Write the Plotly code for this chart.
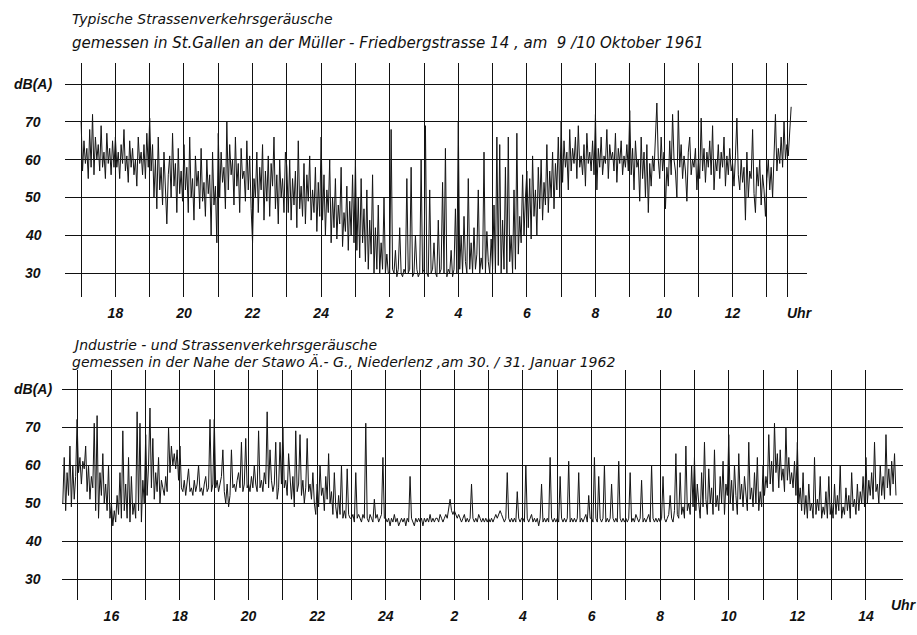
import plotly.graph_objects as go

# ---------------- data (dB(A) readings, 24 per hour) ----------------
# Top: St. Gallen, 9/10 Oktober 1961, starting 17:00
TOP_START = 17.0
top_values = [
    70, 57, 65, 59, 63, 55, 68, 58, 72, 56, 66, 60, 64, 57, 69, 58, 62, 55, 67, 59, 63, 56, 65, 58,  # 17h
    66, 58, 62, 55, 64, 59, 68, 57, 61, 54, 65, 58, 63, 56, 60, 53, 66, 59, 62, 56, 64, 55, 67, 58,  # 18h
    71, 57, 64, 50, 60, 47, 66, 52, 58, 48, 62, 54, 43, 56, 61, 50, 67, 53, 59, 46, 63, 51, 57, 49,  # 19h
    64, 52, 58, 46, 66, 50, 55, 44, 61, 53, 57, 47, 63, 49, 54, 45, 60, 51, 56, 40, 62, 48, 53, 38,  # 20h
    67, 50, 62, 54, 58, 47, 70, 52, 64, 56, 60, 48, 66, 53, 59, 46, 63, 55, 57, 49, 65, 52, 61, 47,  # 21h
    38, 55, 50, 62, 46, 58, 52, 64, 44, 57, 49, 61, 45, 59, 53, 66, 47, 56, 43, 60, 50, 55, 46, 62,  # 22h
    58, 46, 60, 44, 55, 48, 57, 42, 65, 47, 53, 45, 59, 43, 56, 49, 61, 44, 52, 46, 58, 41, 54, 45,  # 23h
    66, 44, 56, 40, 52, 46, 60, 38, 50, 42, 55, 39, 48, 43, 58, 37, 46, 41, 53, 36, 49, 40, 56, 38,  # 24h
    60, 36, 50, 34, 55, 38, 47, 33, 52, 31, 44, 35, 56, 30, 42, 31, 48, 30, 38, 31, 50, 30, 35, 30,  # 1h
    30, 68, 31, 30, 36, 29, 31, 42, 30, 29, 31, 30, 55, 30, 31, 58, 29, 30, 40, 31, 29, 30, 60, 30,  # 2h
    31, 69, 30, 29, 52, 30, 31, 38, 30, 29, 44, 30, 31, 54, 30, 63, 29, 31, 30, 36, 29, 31, 47, 30,  # 3h
    70, 31, 40, 30, 45, 33, 30, 55, 31, 38, 30, 42, 31, 35, 52, 30, 34, 31, 62, 30, 41, 33, 30, 39,  # 4h
    31, 48, 30, 66, 32, 64, 30, 44, 31, 58, 30, 66, 33, 40, 30, 52, 31, 67, 35, 45, 38, 56, 40, 50,  # 5h
    57, 42, 55, 39, 61, 45, 52, 40, 58, 47, 60, 44, 54, 48, 64, 46, 57, 50, 62, 47, 59, 52, 66, 50,  # 6h
    70, 54, 65, 58, 62, 52, 68, 57, 63, 59, 66, 55, 69, 58, 61, 56, 64, 53, 67, 59, 62, 57, 65, 56,  # 7h
    72, 52, 63, 58, 66, 56, 61, 59, 68, 55, 64, 60, 62, 57, 67, 54, 63, 59, 65, 56, 61, 58, 64, 57,  # 8h
    73, 56, 63, 52, 65, 58, 60, 49, 66, 55, 62, 50, 64, 46, 59, 53, 61, 57, 68, 75, 60, 55, 66, 57,  # 9h
    62, 47, 58, 53, 65, 56, 72, 60, 57, 50, 73, 58, 64, 55, 61, 57, 49, 62, 66, 56, 60, 58, 63, 52,  # 10h
    60, 55, 71, 57, 63, 54, 62, 58, 65, 56, 69, 52, 60, 57, 64, 55, 62, 58, 66, 53, 61, 56, 63, 57,  # 11h
    59, 53, 61, 71, 56, 52, 60, 54, 58, 44, 62, 50, 57, 55, 68, 51, 46, 58, 53, 60, 48, 56, 52, 45,  # 12h
    55, 60, 52, 58, 50, 62, 72, 57, 63, 59, 66, 58, 70, 60, 64, 61, 67, 74,                          # 13h
]

# Bottom: Niederlenz, 30./31. Januar 1962, starting 14:35
BOT_START = 14 + 14 / 24
bot_values = [
    50, 62, 48, 58, 52, 65, 49, 60, 51, 57,                                                          # 14h
    72, 58, 62, 55, 61, 59, 65, 53, 60, 51, 57, 54, 71, 48, 73, 46, 58, 52, 63, 50, 55, 48, 60, 46,  # 15h
    50, 44, 48, 45, 52, 47, 58, 46, 69, 48, 55, 46, 62, 45, 57, 47, 50, 46, 74, 48, 71, 45, 56, 50,  # 16h
    68, 52, 60, 75, 54, 67, 51, 58, 53, 62, 50, 56, 54, 52, 57, 53, 70, 58, 65, 60, 63, 59, 64, 56,  # 17h
    65, 54, 53, 56, 52, 55, 59, 53, 54, 52, 56, 53, 55, 60, 53, 54, 52, 55, 57, 53, 54, 72, 53, 55,  # 18h
    72, 54, 56, 53, 55, 57, 64, 53, 50, 55, 49, 52, 64, 54, 55, 53, 56, 58, 54, 66, 53, 55, 67, 54,  # 19h
    55, 53, 57, 54, 60, 55, 53, 69, 54, 56, 53, 58, 55, 74, 54, 64, 56, 53, 55, 66, 51, 54, 66, 55,  # 20h
    70, 54, 56, 52, 63, 55, 51, 57, 49, 69, 53, 55, 68, 52, 56, 50, 54, 67, 53, 55, 51, 58, 50, 47,  # 21h
    55, 49, 60, 52, 54, 48, 57, 51, 63, 50, 53, 47, 58, 49, 46, 52, 47, 60, 46, 48, 46, 59, 47, 46,  # 22h
    46, 47, 45, 58, 46, 47, 46, 45, 47, 46, 71, 46, 45, 47, 46, 45, 51, 46, 47, 45, 46, 47, 62, 46,  # 23h
    46, 45, 46, 44, 46, 45, 47, 45, 46, 44, 45, 46, 45, 46, 44, 46, 45, 57, 46, 45, 44, 46, 45, 46,  # 24h
    45, 46, 44, 46, 45, 46, 45, 47, 45, 46, 45, 46, 46, 45, 47, 46, 45, 46, 47, 46, 48, 51, 48, 47,  # 1h
    48, 47, 46, 47, 46, 45, 46, 47, 45, 46, 45, 46, 55, 46, 45, 46, 45, 47, 46, 45, 46, 45, 46, 45,  # 2h
    46, 45, 46, 45, 46, 47, 46, 47, 48, 47, 46, 45, 46, 58, 46, 45, 46, 45, 46, 45, 53, 46, 45, 46,  # 3h
    46, 45, 60, 46, 45, 46, 47, 45, 46, 45, 46, 44, 46, 55, 45, 46, 45, 46, 45, 62, 46, 45, 46, 45,  # 4h
    46, 45, 57, 46, 45, 46, 45, 46, 61, 45, 46, 45, 46, 45, 46, 58, 45, 46, 45, 46, 47, 45, 52, 46,  # 5h
    46, 45, 62, 46, 45, 57, 46, 45, 46, 60, 45, 46, 45, 46, 55, 46, 45, 46, 45, 61, 46, 45, 46, 45,  # 6h
    46, 45, 46, 58, 45, 46, 45, 47, 46, 45, 46, 56, 45, 46, 45, 46, 47, 45, 60, 46, 45, 46, 45, 46,  # 7h
    45, 46, 57, 46, 45, 46, 47, 52, 46, 45, 48, 63, 47, 46, 58, 47, 49, 46, 65, 48, 50, 47, 60, 49,  # 8h
    62, 48, 55, 50, 46, 58, 49, 66, 51, 47, 59, 50, 54, 47, 64, 49, 52, 48, 57, 50, 61, 47, 55, 52,  # 9h
    68, 50, 56, 48, 60, 52, 47, 63, 51, 55, 49, 57, 52, 48, 66, 51, 54, 49, 58, 50, 62, 48, 53, 49,  # 10h
    60, 52, 57, 54, 68, 55, 61, 53, 71, 58, 63, 54, 64, 56, 59, 53, 70, 56, 62, 55, 58, 54, 61, 52,  # 11h
    66, 50, 54, 48, 58, 47, 52, 46, 55, 48, 50, 46, 62, 47, 51, 48, 57, 46, 49, 47, 53, 46, 57, 47,  # 12h
    50, 46, 55, 47, 52, 48, 60, 46, 49, 47, 54, 48, 52, 46, 58, 49, 51, 47, 55, 48, 53, 50, 57, 49,  # 13h
    62, 50, 56, 52, 58, 51, 66, 53, 55, 50, 60, 52, 57, 51, 68, 54, 59, 52, 61, 55, 63, 52,          # 14h
]
STEP = 1 / 24

# axis grid / ticks
top_grid_hours = list(range(17, 38)) + [37.6]
bot_grid_hours = list(range(15, 39))
db_levels = [30, 40, 50, 60, 70, 80]
db_labels = ["30", "40", "50", "60", "70", "dB(A)"]

top_titles = ["Typische Strassenverkehrsgeräusche",
              "gemessen in St.Gallen an der Müller - Friedbergstrasse 14 , am  9 /10 Oktober 1961"]
bot_titles = ["Jndustrie - und Strassenverkehrsgeräusche",
              "gemessen in der Nahe der Stawo Ä.- G., Niederlenz ,am 30. / 31. Januar 1962"]


def hour_label(h):
    if h != int(h) or int(h) % 2:
        return ""
    h = int(h)
    return str(h if h <= 24 else h - 24)


top_x = [TOP_START + i * STEP for i in range(len(top_values))]
bot_x = [BOT_START + i * STEP for i in range(len(bot_values))]

W, H = 917, 635
FONT = "DejaVu Sans"
TFONT = "Liberation Sans"

fig = go.Figure()
fig.add_trace(go.Scatter(x=top_x, y=top_values, mode="lines",
                         line=dict(color="#151515", width=1), xaxis="x", yaxis="y",
                         showlegend=False, hoverinfo="skip"))
fig.add_trace(go.Scatter(x=bot_x, y=bot_values, mode="lines",
                         line=dict(color="#151515", width=1), xaxis="x2", yaxis="y2",
                         showlegend=False, hoverinfo="skip"))


def xpx(lo, hi):
    return [lo / W, hi / W]


def ypx(top, bottom):
    return [1 - bottom / H, 1 - top / H]


tickfont = dict(family=TFONT, size=14, color="#111", style="italic", weight="bold")
grid = dict(showgrid=True, gridcolor="#111", gridwidth=1.2, zeroline=False,
            showline=False, ticks="", fixedrange=True)

fig.update_layout(
    width=W, height=H,
    margin=dict(l=0, r=0, t=0, b=0),
    paper_bgcolor="white", plot_bgcolor="white",
    xaxis=dict(domain=xpx(65, 807), range=[16.53, 38.17], anchor="y",
               tickmode="array", tickvals=top_grid_hours,
               ticktext=[hour_label(h) for h in top_grid_hours],
               tickfont=tickfont, ticklabelstandoff=6, **grid),
    yaxis=dict(domain=ypx(63, 297), range=[23.65, 85.6], anchor="x",
               tickmode="array", tickvals=db_levels, showticklabels=False, **grid),
    xaxis2=dict(domain=xpx(62, 903), range=[14.56, 39.08], anchor="y2",
                tickmode="array", tickvals=bot_grid_hours,
                ticktext=[hour_label(h) for h in bot_grid_hours],
                tickfont=tickfont, ticklabelstandoff=6, **grid),
    yaxis2=dict(domain=ypx(370, 600), range=[24.5, 85], anchor="x2",
                tickmode="array", tickvals=db_levels, showticklabels=False, **grid),
)

ann = []
for yref in ("y", "y2"):
    for v, t in zip(db_levels, db_labels):
        ann.append(dict(x=33 / W, xref="paper", y=v, yref=yref, text=t,
                        showarrow=False, xanchor="center", yanchor="middle",
                        font=tickfont))

title_sizes_top = [14, 15]
for t, py, sz in zip(top_titles, [19, 43], title_sizes_top):
    ann.append(dict(x=70 / W, y=1 - py / H, xref="paper", yref="paper", text=t,
                    showarrow=False, xanchor="left", yanchor="middle",
                    font=dict(family=FONT, size=sz, color="#111", style="italic")))
for t, py in zip(bot_titles, [345, 361]):
    ann.append(dict(x=70 / W, y=1 - py / H, xref="paper", yref="paper", text=t,
                    showarrow=False, xanchor="left", yanchor="middle",
                    font=dict(family=FONT, size=14, color="#111", style="italic")))

ann.append(dict(x=800 / W, y=1 - 313 / H, xref="paper", yref="paper", text="Uhr",
                showarrow=False, xanchor="center", yanchor="middle", font=tickfont))
ann.append(dict(x=904 / W, y=1 - 605 / H, xref="paper", yref="paper", text="Uhr",
                showarrow=False, xanchor="center", yanchor="middle", font=tickfont))

fig.update_layout(annotations=ann)
fig.write_html("out.html")
